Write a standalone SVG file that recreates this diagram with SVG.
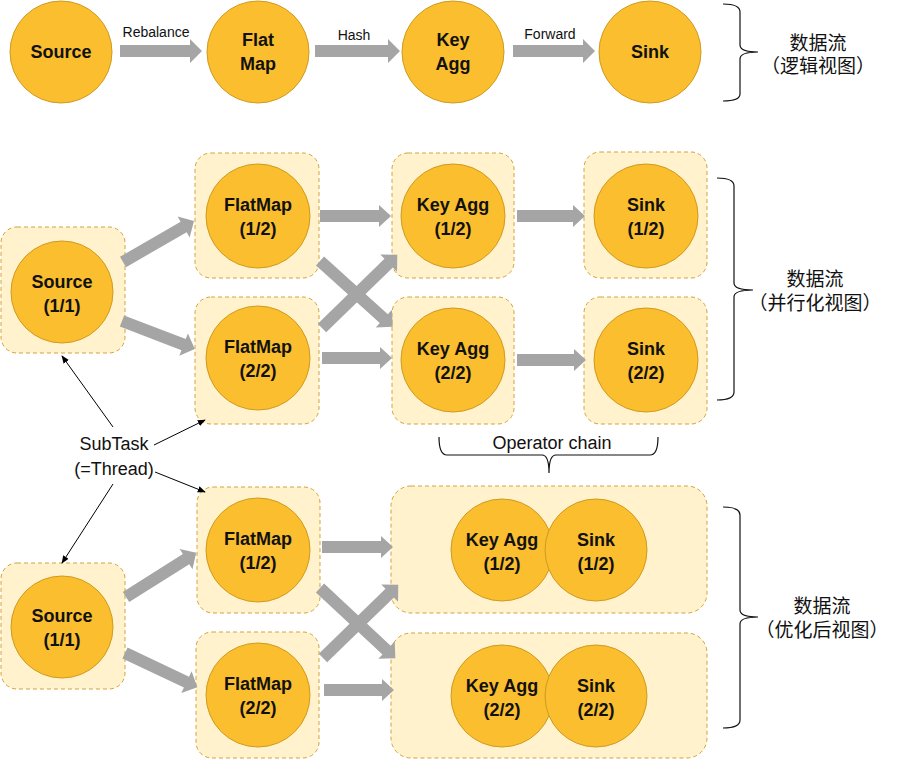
<svg xmlns="http://www.w3.org/2000/svg" width="911" height="759" viewBox="0 0 911 759">
<defs>
<marker id="ah" viewBox="0 0 10 10" refX="9" refY="5" markerWidth="8" markerHeight="8" orient="auto" markerUnits="userSpaceOnUse">
<path d="M0,1 L10,5 L0,9 Z" fill="#000"/>
</marker>
</defs>
<style>
.c{fill:#FBBE2E;stroke:#CF9A1F;stroke-width:1}
.b{fill:#FFF2CC;stroke:#D4A33A;stroke-width:1;stroke-dasharray:4,3}
.t{font-family:"Liberation Sans",Arial,sans-serif;font-weight:bold;font-size:18px;fill:#111;text-anchor:middle}
.l{font-family:"Liberation Sans",Arial,sans-serif;font-size:14px;fill:#111;text-anchor:middle}
.s{font-family:"Liberation Sans",Arial,sans-serif;font-size:18px;fill:#111;text-anchor:middle}
.z{font-family:"Liberation Sans","Noto Sans CJK SC",sans-serif;font-size:19px;fill:#111;text-anchor:middle}
.a{fill:#A5A5A5}
.br{fill:none;stroke:#111;stroke-width:1.2}
.th{fill:none;stroke:#000;stroke-width:1;marker-end:url(#ah)}
</style>
<rect width="911" height="759" fill="#fff"/>

<!-- Top logical view -->
<g id="top-source"><circle class="c" cx="61" cy="52" r="51"/><text class="t" x="61" y="58">Source</text></g>
<g id="top-flatmap"><circle class="c" cx="258" cy="52" r="51"/><text class="t" x="258" y="46">Flat</text><text class="t" x="258" y="70">Map</text></g>
<g id="top-keyagg"><circle class="c" cx="453" cy="52" r="51"/><text class="t" x="453" y="46">Key</text><text class="t" x="453" y="70">Agg</text></g>
<g id="top-sink"><circle class="c" cx="650" cy="52" r="51"/><text class="t" x="650" y="58">Sink</text></g>

<!-- Middle parallel view -->
<g id="mid-source"><rect class="b" x="1" y="227" width="124" height="126" rx="16"/><circle class="c" cx="62" cy="292" r="51"/><text class="t" x="62" y="288">Source</text><text class="t" x="62" y="312">(1/1)</text></g>
<g id="mid-flatmap1"><rect class="b" x="195" y="153" width="124" height="125" rx="16"/><circle class="c" cx="258" cy="216" r="52"/><text class="t" x="258" y="211">FlatMap</text><text class="t" x="258" y="235">(1/2)</text></g>
<g id="mid-flatmap2"><rect class="b" x="195" y="297" width="124" height="127" rx="16"/><circle class="c" cx="258" cy="358" r="52"/><text class="t" x="258" y="353">FlatMap</text><text class="t" x="258" y="377">(2/2)</text></g>
<g id="mid-keyagg1"><rect class="b" x="392" y="153" width="122" height="125" rx="16"/><circle class="c" cx="453" cy="216" r="52"/><text class="t" x="453" y="211">Key Agg</text><text class="t" x="453" y="235">(1/2)</text></g>
<g id="mid-keyagg2"><rect class="b" x="392" y="297" width="122" height="127" rx="16"/><circle class="c" cx="453" cy="360" r="52"/><text class="t" x="453" y="355">Key Agg</text><text class="t" x="453" y="379">(2/2)</text></g>
<g id="mid-sink1"><rect class="b" x="584" y="152" width="123" height="126" rx="16"/><circle class="c" cx="646" cy="216" r="52"/><text class="t" x="646" y="211">Sink</text><text class="t" x="646" y="235">(1/2)</text></g>
<g id="mid-sink2"><rect class="b" x="584" y="297" width="123" height="127" rx="16"/><circle class="c" cx="646" cy="360" r="52"/><text class="t" x="646" y="355">Sink</text><text class="t" x="646" y="379">(2/2)</text></g>

<!-- Bottom optimized view -->
<g id="bot-source"><rect class="b" x="1" y="563" width="124" height="126" rx="16"/><circle class="c" cx="62" cy="627" r="51"/><text class="t" x="62" y="622">Source</text><text class="t" x="62" y="646">(1/1)</text></g>
<g id="bot-flatmap1"><rect class="b" x="197" y="487" width="123" height="126" rx="16"/><circle class="c" cx="258" cy="550" r="52"/><text class="t" x="258" y="545">FlatMap</text><text class="t" x="258" y="569">(1/2)</text></g>
<g id="bot-flatmap2"><rect class="b" x="196" y="632" width="123" height="126" rx="16"/><circle class="c" cx="258" cy="695" r="52"/><text class="t" x="258" y="690">FlatMap</text><text class="t" x="258" y="714">(2/2)</text></g>
<g id="bot-chain1"><rect class="b" x="391" y="486" width="316" height="127" rx="20"/><circle class="c" cx="502" cy="550" r="51"/><circle class="c" cx="596" cy="550" r="51"/><text class="t" x="502" y="546">Key Agg</text><text class="t" x="502" y="570">(1/2)</text><text class="t" x="596" y="546">Sink</text><text class="t" x="596" y="570">(1/2)</text></g>
<g id="bot-chain2"><rect class="b" x="391" y="633" width="316" height="125" rx="20"/><circle class="c" cx="502" cy="696" r="51"/><circle class="c" cx="596" cy="696" r="51"/><text class="t" x="502" y="692">Key Agg</text><text class="t" x="502" y="716">(2/2)</text><text class="t" x="596" y="692">Sink</text><text class="t" x="596" y="716">(2/2)</text></g>

<!-- Connectors -->
<g id="connectors">
<path class="a" d="M120,45 H190 V39 L202,51 L190,63 V57 H120 Z"/>
<path class="a" d="M315,45 H388 V39 L400,51 L388,63 V57 H315 Z"/>
<path class="a" d="M513,45 H583 V39 L595,51 L583,63 V57 H513 Z"/>
<text class="l" x="156" y="37">Rebalance</text>
<text class="l" x="354" y="40">Hash</text>
<text class="l" x="550" y="39">Forward</text>

<g transform="translate(123,262) rotate(-30)"><path class="a" d="M0,-6 H70 V-12 L82,0 L70,12 V6 H0 Z"/></g>
<g transform="translate(122,321) rotate(21)"><path class="a" d="M0,-6 H66 V-12 L78,0 L66,12 V6 H0 Z"/></g>
<g transform="translate(320,216)"><path class="a" d="M0,-6 H59 V-11 L71,0 L59,11 V6 H0 Z"/></g>
<g transform="translate(322,358)"><path class="a" d="M0,-6 H58 V-11 L70,0 L58,11 V6 H0 Z"/></g>
<g transform="translate(320,261) rotate(42.1)"><path class="a" d="M0,-6 H86 V-12 L98,0 L86,12 V6 H0 Z"/></g>
<g transform="translate(322,328) rotate(-44.2)"><path class="a" d="M0,-6 H93 V-12 L105,0 L93,12 V6 H0 Z"/></g>
<g transform="translate(517,216)"><path class="a" d="M0,-6 H56 V-11 L68,0 L56,11 V6 H0 Z"/></g>
<g transform="translate(517,360)"><path class="a" d="M0,-6 H57 V-11 L69,0 L57,11 V6 H0 Z"/></g>

<g transform="translate(126,597) rotate(-32.2)"><path class="a" d="M0,-6 H71 V-12 L83,0 L71,12 V6 H0 Z"/></g>
<g transform="translate(125,653) rotate(25.3)"><path class="a" d="M0,-6 H68 V-12 L80,0 L68,12 V6 H0 Z"/></g>
<g transform="translate(322,547)"><path class="a" d="M0,-6 H59 V-11 L71,0 L59,11 V6 H0 Z"/></g>
<g transform="translate(324,690)"><path class="a" d="M0,-6 H58 V-11 L70,0 L58,11 V6 H0 Z"/></g>
<g transform="translate(320,588) rotate(43)"><path class="a" d="M0,-6 H91 V-12 L103,0 L91,12 V6 H0 Z"/></g>
<g transform="translate(323,658) rotate(-44.2)"><path class="a" d="M0,-6 H93 V-12 L105,0 L93,12 V6 H0 Z"/></g>

<line class="th" x1="113" y1="427" x2="62" y2="356"/>
<line class="th" x1="154" y1="445" x2="205" y2="420"/>
<line class="th" x1="155" y1="472" x2="205" y2="492"/>
<line class="th" x1="113" y1="484" x2="62" y2="563"/>
</g>

<!-- SubTask label -->
<g id="subtask-label">
<text class="s" x="114" y="450">SubTask</text>
<text class="s" x="114" y="475">(=Thread)</text>
</g>

<!-- Braces and annotations -->
<g id="annotations">
<path class="br" d="M723,4 Q740,4 740,12 L740,45 Q740,52 758,52 Q740,52 740,59 L740,94 Q740,101 723,101"/>
<text class="z" x="818" y="50">数据流</text>
<text class="z" x="818" y="73">（逻辑视图）</text>
<path class="br" d="M717,178 Q734,178 734,186 L734,283 Q734,290 753,290 Q734,290 734,297 L734,392 Q734,400 717,400"/>
<text class="z" x="815" y="286">数据流</text>
<text class="z" x="815" y="310">（并行化视图）</text>
<path class="br" d="M723,507 Q740,507 740,515 L740,610 Q740,617 758,617 Q740,617 740,624 L740,720 Q740,728 723,728"/>
<text class="z" x="822" y="613">数据流</text>
<text class="z" x="822" y="637">（优化后视图）</text>
<path class="br" d="M439,437 Q439,455 447,455 L542,455 Q549,455 549,473 Q549,455 556,455 L650,455 Q658,455 658,437"/>
<text class="s" x="552" y="449">Operator chain</text>
</g>
</svg>
